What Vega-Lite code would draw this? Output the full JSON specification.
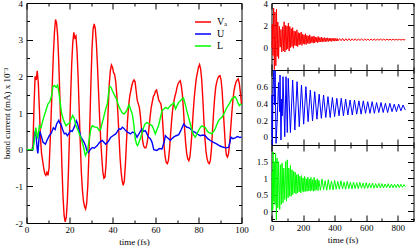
{
"$schema":"https://vega.github.io/schema/vega-lite/v6.json",
"padding":{"left":1.5,"top":-2,"right":0,"bottom":0},
"config":{"font":"Liberation Serif","view":{"stroke":"black","strokeWidth":1},
"axis":{"domain":false,"grid":false,"labelFont":"Liberation Serif","labelFontSize":9,"titleFont":"Liberation Serif","titleFontSize":9,"titleFontWeight":"normal","tickColor":"black","labelColor":"black","titleColor":"black","labelFlush":false,"labelOverlap":false,"labelPadding":10},
"axisBottom":{"labelPadding":8,"titlePadding":0}},
"datasets":{
"left":[
{"s":"Vₐ","t":0,"v":0},{"s":"Vₐ","t":2.5,"v":0},{"s":"Vₐ","t":3,"v":0.1},{"s":"Vₐ","t":3.5,"v":1.2},{"s":"Vₐ","t":4,"v":2.0},{"s":"Vₐ","t":4.5,"v":1.9},{"s":"Vₐ","t":5,"v":2.15},{"s":"Vₐ","t":5.5,"v":1.8},{"s":"Vₐ","t":6,"v":1.1},{"s":"Vₐ","t":6.5,"v":0.3},{"s":"Vₐ","t":7,"v":-0.1},{"s":"Vₐ","t":7.5,"v":-0.3},{"s":"Vₐ","t":8,"v":-0.5},{"s":"Vₐ","t":8.5,"v":-0.65},{"s":"Vₐ","t":9,"v":-0.7},{"s":"Vₐ","t":9.5,"v":-0.62},{"s":"Vₐ","t":10,"v":-0.7},{"s":"Vₐ","t":10.5,"v":-0.5},{"s":"Vₐ","t":11,"v":0.2},{"s":"Vₐ","t":11.5,"v":1.0},{"s":"Vₐ","t":12,"v":1.8},{"s":"Vₐ","t":12.5,"v":2.6},{"s":"Vₐ","t":13,"v":3.2},{"s":"Vₐ","t":13.5,"v":3.55},{"s":"Vₐ","t":14,"v":3.45},{"s":"Vₐ","t":14.5,"v":3.1},{"s":"Vₐ","t":15,"v":2.4},{"s":"Vₐ","t":15.5,"v":1.5},{"s":"Vₐ","t":16,"v":0.5},{"s":"Vₐ","t":16.5,"v":-0.5},{"s":"Vₐ","t":17,"v":-1.3},{"s":"Vₐ","t":17.5,"v":-1.8},{"s":"Vₐ","t":18,"v":-1.97},{"s":"Vₐ","t":18.5,"v":-1.85},{"s":"Vₐ","t":19,"v":-1.4},{"s":"Vₐ","t":19.5,"v":-0.6},{"s":"Vₐ","t":20,"v":0.4},{"s":"Vₐ","t":20.5,"v":1.4},{"s":"Vₐ","t":21,"v":2.3},{"s":"Vₐ","t":21.5,"v":2.9},{"s":"Vₐ","t":22,"v":3.2},{"s":"Vₐ","t":22.5,"v":3.05},{"s":"Vₐ","t":23,"v":3.1},{"s":"Vₐ","t":23.5,"v":2.7},{"s":"Vₐ","t":24,"v":2.0},{"s":"Vₐ","t":24.5,"v":1.1},{"s":"Vₐ","t":25,"v":0.2},{"s":"Vₐ","t":25.5,"v":-0.6},{"s":"Vₐ","t":26,"v":-1.1},{"s":"Vₐ","t":26.5,"v":-1.4},{"s":"Vₐ","t":27,"v":-1.55},{"s":"Vₐ","t":27.5,"v":-1.62},{"s":"Vₐ","t":28,"v":-1.45},{"s":"Vₐ","t":28.5,"v":-1.0},{"s":"Vₐ","t":29,"v":-0.2},{"s":"Vₐ","t":29.5,"v":0.8},{"s":"Vₐ","t":30,"v":1.9},{"s":"Vₐ","t":30.5,"v":2.8},{"s":"Vₐ","t":31,"v":3.3},{"s":"Vₐ","t":31.5,"v":3.43},{"s":"Vₐ","t":32,"v":3.3},{"s":"Vₐ","t":32.5,"v":2.9},{"s":"Vₐ","t":33,"v":2.3},{"s":"Vₐ","t":33.5,"v":1.6},{"s":"Vₐ","t":34,"v":0.9},{"s":"Vₐ","t":34.5,"v":0.3},{"s":"Vₐ","t":35,"v":-0.2},{"s":"Vₐ","t":35.5,"v":-0.6},{"s":"Vₐ","t":36,"v":-0.78},{"s":"Vₐ","t":36.5,"v":-0.75},{"s":"Vₐ","t":37,"v":-0.4},{"s":"Vₐ","t":37.5,"v":0.3},{"s":"Vₐ","t":38,"v":1.1},{"s":"Vₐ","t":38.5,"v":1.8},{"s":"Vₐ","t":39,"v":2.15},{"s":"Vₐ","t":39.5,"v":2.31},{"s":"Vₐ","t":40,"v":2.25},{"s":"Vₐ","t":40.5,"v":2.1},{"s":"Vₐ","t":41,"v":2.05},{"s":"Vₐ","t":41.5,"v":1.85},{"s":"Vₐ","t":42,"v":1.5},{"s":"Vₐ","t":42.5,"v":1.0},{"s":"Vₐ","t":43,"v":0.4},{"s":"Vₐ","t":43.5,"v":-0.2},{"s":"Vₐ","t":44,"v":-0.6},{"s":"Vₐ","t":44.5,"v":-0.85},{"s":"Vₐ","t":45,"v":-0.97},{"s":"Vₐ","t":45.5,"v":-0.85},{"s":"Vₐ","t":46,"v":-0.4},{"s":"Vₐ","t":46.5,"v":0.2},{"s":"Vₐ","t":47,"v":0.8},{"s":"Vₐ","t":47.5,"v":1.2},{"s":"Vₐ","t":48,"v":1.45},{"s":"Vₐ","t":48.5,"v":1.6},{"s":"Vₐ","t":49,"v":1.75},{"s":"Vₐ","t":49.5,"v":1.85},{"s":"Vₐ","t":50,"v":1.9},{"s":"Vₐ","t":50.5,"v":1.85},{"s":"Vₐ","t":51,"v":1.6},{"s":"Vₐ","t":51.5,"v":1.35},{"s":"Vₐ","t":52,"v":1.25},{"s":"Vₐ","t":52.5,"v":1.15},{"s":"Vₐ","t":53,"v":0.9},{"s":"Vₐ","t":53.5,"v":0.55},{"s":"Vₐ","t":54,"v":0.25},{"s":"Vₐ","t":54.5,"v":0.1},{"s":"Vₐ","t":55,"v":0.05},{"s":"Vₐ","t":55.5,"v":0.05},{"s":"Vₐ","t":56,"v":0.15},{"s":"Vₐ","t":56.5,"v":0.35},{"s":"Vₐ","t":57,"v":0.6},{"s":"Vₐ","t":57.5,"v":0.9},{"s":"Vₐ","t":58,"v":1.15},{"s":"Vₐ","t":58.5,"v":1.3},{"s":"Vₐ","t":59,"v":1.45},{"s":"Vₐ","t":59.5,"v":1.5},{"s":"Vₐ","t":60,"v":1.6},{"s":"Vₐ","t":60.5,"v":1.63},{"s":"Vₐ","t":61,"v":1.5},{"s":"Vₐ","t":61.5,"v":1.35},{"s":"Vₐ","t":62,"v":1.3},{"s":"Vₐ","t":62.5,"v":1.25},{"s":"Vₐ","t":63,"v":1.05},{"s":"Vₐ","t":63.5,"v":0.6},{"s":"Vₐ","t":64,"v":0.1},{"s":"Vₐ","t":64.5,"v":-0.2},{"s":"Vₐ","t":65,"v":-0.35},{"s":"Vₐ","t":65.5,"v":-0.38},{"s":"Vₐ","t":66,"v":-0.3},{"s":"Vₐ","t":66.5,"v":0.0},{"s":"Vₐ","t":67,"v":0.4},{"s":"Vₐ","t":67.5,"v":0.8},{"s":"Vₐ","t":68,"v":1.1},{"s":"Vₐ","t":68.5,"v":1.3},{"s":"Vₐ","t":69,"v":1.45},{"s":"Vₐ","t":69.5,"v":1.55},{"s":"Vₐ","t":70,"v":1.7},{"s":"Vₐ","t":70.5,"v":1.8},{"s":"Vₐ","t":71,"v":1.85},{"s":"Vₐ","t":71.5,"v":1.88},{"s":"Vₐ","t":72,"v":1.75},{"s":"Vₐ","t":72.5,"v":1.5},{"s":"Vₐ","t":73,"v":1.1},{"s":"Vₐ","t":73.5,"v":0.6},{"s":"Vₐ","t":74,"v":0.2},{"s":"Vₐ","t":74.5,"v":-0.1},{"s":"Vₐ","t":75,"v":-0.25},{"s":"Vₐ","t":75.5,"v":-0.3},{"s":"Vₐ","t":76,"v":-0.2},{"s":"Vₐ","t":76.5,"v":0.1},{"s":"Vₐ","t":77,"v":0.5},{"s":"Vₐ","t":77.5,"v":1.0},{"s":"Vₐ","t":78,"v":1.4},{"s":"Vₐ","t":78.5,"v":1.7},{"s":"Vₐ","t":79,"v":1.95},{"s":"Vₐ","t":79.5,"v":2.1},{"s":"Vₐ","t":80,"v":2.25},{"s":"Vₐ","t":80.5,"v":2.32},{"s":"Vₐ","t":81,"v":2.2},{"s":"Vₐ","t":81.5,"v":1.9},{"s":"Vₐ","t":82,"v":1.4},{"s":"Vₐ","t":82.5,"v":0.8},{"s":"Vₐ","t":83,"v":0.3},{"s":"Vₐ","t":83.5,"v":-0.05},{"s":"Vₐ","t":84,"v":-0.25},{"s":"Vₐ","t":84.5,"v":-0.35},{"s":"Vₐ","t":85,"v":-0.38},{"s":"Vₐ","t":85.5,"v":-0.3},{"s":"Vₐ","t":86,"v":0.0},{"s":"Vₐ","t":86.5,"v":0.5},{"s":"Vₐ","t":87,"v":1.0},{"s":"Vₐ","t":87.5,"v":1.4},{"s":"Vₐ","t":88,"v":1.7},{"s":"Vₐ","t":88.5,"v":1.85},{"s":"Vₐ","t":89,"v":1.95},{"s":"Vₐ","t":89.5,"v":2.0},{"s":"Vₐ","t":90,"v":2.02},{"s":"Vₐ","t":90.5,"v":1.9},{"s":"Vₐ","t":91,"v":1.6},{"s":"Vₐ","t":91.5,"v":1.1},{"s":"Vₐ","t":92,"v":0.6},{"s":"Vₐ","t":92.5,"v":0.1},{"s":"Vₐ","t":93,"v":-0.15},{"s":"Vₐ","t":93.5,"v":-0.2},{"s":"Vₐ","t":94,"v":-0.1},{"s":"Vₐ","t":94.5,"v":0.2},{"s":"Vₐ","t":95,"v":0.6},{"s":"Vₐ","t":95.5,"v":1.0},{"s":"Vₐ","t":96,"v":1.35},{"s":"Vₐ","t":96.5,"v":1.6},{"s":"Vₐ","t":97,"v":1.75},{"s":"Vₐ","t":97.5,"v":1.85},{"s":"Vₐ","t":98,"v":1.9},{"s":"Vₐ","t":98.5,"v":1.93},{"s":"Vₐ","t":99,"v":1.8},{"s":"Vₐ","t":99.5,"v":1.55},{"s":"Vₐ","t":100,"v":1.25},
{"s":"U","t":0,"v":0},{"s":"U","t":3,"v":0},{"s":"U","t":3.5,"v":0.3},{"s":"U","t":4,"v":0.5},{"s":"U","t":4.5,"v":0.35},{"s":"U","t":5,"v":0.0},{"s":"U","t":5.3,"v":-0.1},{"s":"U","t":5.8,"v":0.3},{"s":"U","t":6.2,"v":0.5},{"s":"U","t":7,"v":0.35},{"s":"U","t":7.7,"v":0.2},{"s":"U","t":8.8,"v":0.15},{"s":"U","t":9.5,"v":0.25},{"s":"U","t":10.6,"v":0.38},{"s":"U","t":11.5,"v":0.45},{"s":"U","t":12.5,"v":0.6},{"s":"U","t":13.3,"v":0.55},{"s":"U","t":14,"v":0.7},{"s":"U","t":15,"v":0.8},{"s":"U","t":15.5,"v":0.72},{"s":"U","t":16,"v":0.7},{"s":"U","t":16.8,"v":0.55},{"s":"U","t":17.6,"v":0.43},{"s":"U","t":18.3,"v":0.45},{"s":"U","t":19,"v":0.38},{"s":"U","t":19.8,"v":0.45},{"s":"U","t":20.6,"v":0.52},{"s":"U","t":21.3,"v":0.5},{"s":"U","t":22.1,"v":0.6},{"s":"U","t":22.7,"v":0.7},{"s":"U","t":23.2,"v":0.79},{"s":"U","t":23.7,"v":0.72},{"s":"U","t":24.2,"v":0.6},{"s":"U","t":25.3,"v":0.34},{"s":"U","t":26,"v":0.28},{"s":"U","t":26.8,"v":0.2},{"s":"U","t":27.5,"v":0.1},{"s":"U","t":28.1,"v":-0.03},{"s":"U","t":28.8,"v":-0.08},{"s":"U","t":29.6,"v":0.0},{"s":"U","t":30.6,"v":0.06},{"s":"U","t":31.5,"v":0.04},{"s":"U","t":32.9,"v":0.11},{"s":"U","t":34,"v":0.2},{"s":"U","t":35.2,"v":0.25},{"s":"U","t":36,"v":0.2},{"s":"U","t":36.8,"v":0.15},{"s":"U","t":38,"v":0.22},{"s":"U","t":39.1,"v":0.33},{"s":"U","t":40.2,"v":0.38},{"s":"U","t":41.5,"v":0.43},{"s":"U","t":42.3,"v":0.5},{"s":"U","t":43,"v":0.57},{"s":"U","t":43.8,"v":0.55},{"s":"U","t":44.6,"v":0.61},{"s":"U","t":45.3,"v":0.58},{"s":"U","t":46.1,"v":0.52},{"s":"U","t":47.2,"v":0.47},{"s":"U","t":48.4,"v":0.43},{"s":"U","t":49.3,"v":0.48},{"s":"U","t":50.5,"v":0.45},{"s":"U","t":51.4,"v":0.34},{"s":"U","t":52.5,"v":0.45},{"s":"U","t":53.7,"v":0.57},{"s":"U","t":54.5,"v":0.5},{"s":"U","t":55.3,"v":0.52},{"s":"U","t":56.8,"v":0.34},{"s":"U","t":57.6,"v":0.3},{"s":"U","t":58.4,"v":0.2},{"s":"U","t":59.2,"v":0.0},{"s":"U","t":60.7,"v":-0.02},{"s":"U","t":61.8,"v":0.03},{"s":"U","t":63,"v":0.02},{"s":"U","t":64,"v":0.2},{"s":"U","t":64.6,"v":0.38},{"s":"U","t":65.3,"v":0.34},{"s":"U","t":66.1,"v":0.3},{"s":"U","t":66.9,"v":0.25},{"s":"U","t":67.6,"v":0.3},{"s":"U","t":68.4,"v":0.34},{"s":"U","t":69.6,"v":0.38},{"s":"U","t":70.8,"v":0.41},{"s":"U","t":72,"v":0.55},{"s":"U","t":73.1,"v":0.7},{"s":"U","t":73.8,"v":0.65},{"s":"U","t":74.6,"v":0.61},{"s":"U","t":75.4,"v":0.6},{"s":"U","t":76.2,"v":0.57},{"s":"U","t":77.4,"v":0.5},{"s":"U","t":78.5,"v":0.47},{"s":"U","t":79.6,"v":0.42},{"s":"U","t":80.8,"v":0.38},{"s":"U","t":82,"v":0.4},{"s":"U","t":83.1,"v":0.38},{"s":"U","t":84.3,"v":0.3},{"s":"U","t":85.5,"v":0.25},{"s":"U","t":87,"v":0.2},{"s":"U","t":88.6,"v":0.15},{"s":"U","t":90,"v":0.1},{"s":"U","t":90.9,"v":0.08},{"s":"U","t":92.5,"v":0.05},{"s":"U","t":94,"v":0.06},{"s":"U","t":94.6,"v":0.2},{"s":"U","t":95.1,"v":0.34},{"s":"U","t":96,"v":0.3},{"s":"U","t":97.1,"v":0.32},{"s":"U","t":98,"v":0.36},{"s":"U","t":98.6,"v":0.35},{"s":"U","t":99.3,"v":0.33},{"s":"U","t":100,"v":0.35},
{"s":"L","t":0,"v":0},{"s":"L","t":3,"v":0},{"s":"L","t":3.5,"v":0.2},{"s":"L","t":4.3,"v":0.6},{"s":"L","t":5.2,"v":0.3},{"s":"L","t":6,"v":0.65},{"s":"L","t":6.8,"v":0.6},{"s":"L","t":7.6,"v":0.8},{"s":"L","t":8.5,"v":0.97},{"s":"L","t":9.2,"v":1.1},{"s":"L","t":10,"v":1.25},{"s":"L","t":10.8,"v":1.3},{"s":"L","t":11.6,"v":1.45},{"s":"L","t":12.3,"v":1.72},{"s":"L","t":13,"v":1.75},{"s":"L","t":13.8,"v":1.7},{"s":"L","t":14.5,"v":1.76},{"s":"L","t":15,"v":1.6},{"s":"L","t":15.5,"v":1.35},{"s":"L","t":16.3,"v":1.0},{"s":"L","t":17,"v":0.85},{"s":"L","t":17.6,"v":0.75},{"s":"L","t":18.4,"v":0.65},{"s":"L","t":19.2,"v":0.7},{"s":"L","t":20,"v":0.72},{"s":"L","t":20.8,"v":0.85},{"s":"L","t":21.5,"v":0.93},{"s":"L","t":22.2,"v":0.85},{"s":"L","t":23,"v":0.65},{"s":"L","t":23.8,"v":0.55},{"s":"L","t":24.6,"v":0.43},{"s":"L","t":25.4,"v":0.3},{"s":"L","t":26.2,"v":0.15},{"s":"L","t":26.8,"v":0.0},{"s":"L","t":27.4,"v":-0.16},{"s":"L","t":28,"v":-0.08},{"s":"L","t":28.4,"v":-0.03},{"s":"L","t":29.1,"v":0.25},{"s":"L","t":29.9,"v":0.56},{"s":"L","t":30.6,"v":0.65},{"s":"L","t":31.5,"v":0.62},{"s":"L","t":33,"v":0.6},{"s":"L","t":33.8,"v":0.52},{"s":"L","t":34.5,"v":0.56},{"s":"L","t":35.3,"v":0.75},{"s":"L","t":36.1,"v":0.93},{"s":"L","t":36.8,"v":1.1},{"s":"L","t":37.6,"v":1.25},{"s":"L","t":38.3,"v":1.6},{"s":"L","t":38.7,"v":1.73},{"s":"L","t":39.3,"v":1.7},{"s":"L","t":40,"v":1.6},{"s":"L","t":40.8,"v":1.5},{"s":"L","t":41.9,"v":1.38},{"s":"L","t":42.8,"v":1.2},{"s":"L","t":43.6,"v":1.1},{"s":"L","t":44.6,"v":1.0},{"s":"L","t":45.3,"v":0.97},{"s":"L","t":46.1,"v":1.02},{"s":"L","t":46.8,"v":1.1},{"s":"L","t":47.7,"v":1.22},{"s":"L","t":48.4,"v":1.1},{"s":"L","t":49.2,"v":0.97},{"s":"L","t":49.9,"v":0.7},{"s":"L","t":50.6,"v":0.29},{"s":"L","t":51.2,"v":0.15},{"s":"L","t":51.7,"v":0.11},{"s":"L","t":52.3,"v":0.2},{"s":"L","t":52.9,"v":0.29},{"s":"L","t":53.7,"v":0.45},{"s":"L","t":54.5,"v":0.61},{"s":"L","t":55.2,"v":0.7},{"s":"L","t":56,"v":0.74},{"s":"L","t":57.2,"v":0.7},{"s":"L","t":58.4,"v":0.65},{"s":"L","t":59.2,"v":0.55},{"s":"L","t":59.9,"v":0.43},{"s":"L","t":60.7,"v":0.55},{"s":"L","t":61.4,"v":0.65},{"s":"L","t":62.2,"v":0.85},{"s":"L","t":63,"v":1.06},{"s":"L","t":63.8,"v":1.1},{"s":"L","t":64.6,"v":1.15},{"s":"L","t":65.8,"v":1.12},{"s":"L","t":66.9,"v":1.2},{"s":"L","t":68,"v":1.25},{"s":"L","t":68.5,"v":1.28},{"s":"L","t":69.3,"v":1.11},{"s":"L","t":70,"v":1.2},{"s":"L","t":70.8,"v":1.29},{"s":"L","t":71.5,"v":1.33},{"s":"L","t":72.3,"v":1.38},{"s":"L","t":73,"v":1.41},{"s":"L","t":73.8,"v":1.25},{"s":"L","t":74.6,"v":1.05},{"s":"L","t":75.4,"v":0.88},{"s":"L","t":76.2,"v":0.7},{"s":"L","t":77,"v":0.52},{"s":"L","t":77.7,"v":0.4},{"s":"L","t":78.5,"v":0.34},{"s":"L","t":79.2,"v":0.42},{"s":"L","t":80,"v":0.52},{"s":"L","t":80.8,"v":0.6},{"s":"L","t":81.6,"v":0.65},{"s":"L","t":82.4,"v":0.62},{"s":"L","t":83.1,"v":0.61},{"s":"L","t":83.9,"v":0.52},{"s":"L","t":84.7,"v":0.47},{"s":"L","t":85.5,"v":0.45},{"s":"L","t":86.2,"v":0.43},{"s":"L","t":87,"v":0.5},{"s":"L","t":87.7,"v":0.56},{"s":"L","t":88.5,"v":0.68},{"s":"L","t":89.3,"v":0.79},{"s":"L","t":90.1,"v":0.85},{"s":"L","t":90.9,"v":0.88},{"s":"L","t":92,"v":1.0},{"s":"L","t":93.2,"v":1.15},{"s":"L","t":94.3,"v":1.25},{"s":"L","t":95.5,"v":1.38},{"s":"L","t":96.3,"v":1.42},{"s":"L","t":96.9,"v":1.45},{"s":"L","t":97.5,"v":1.4},{"s":"L","t":98.2,"v":1.3},{"s":"L","t":99,"v":1.2},{"s":"L","t":99.5,"v":1.24},{"s":"L","t":100,"v":1.22}
],
"rr":[
{"t":0,"v":0},{"t":3,"v":0},{"t":5,"v":2.1},{"t":9.5,"v":-0.7},{"t":13.5,"v":3.55},{"t":18,"v":-1.97},{"t":22,"v":3.2},{"t":27.5,"v":-1.62},{"t":31.5,"v":3.43},{"t":36,"v":-0.78},{"t":40,"v":2.3},{"t":45,"v":-0.97},{"t":50,"v":1.9},{"t":55,"v":0.05},{"t":60,"v":1.63},{"t":65,"v":-0.38},{"t":71,"v":1.88},{"t":75,"v":-0.3},{"t":80,"v":2.32},{"t":85,"v":-0.38},{"t":90,"v":2.0},{"t":94,"v":-0.2},{"t":98.5,"v":1.93},{"t":103,"v":-0.1},{"t":107,"v":2.2},{"t":112,"v":-0.3},{"t":116,"v":1.9},{"t":121,"v":0.0},{"t":125,"v":1.7},{"t":130,"v":0.1},{"t":134,"v":1.8},{"t":139,"v":-0.05},{"t":143,"v":1.5},{"t":148,"v":0.2},{"t":152,"v":1.45},{"t":157,"v":0.15},{"t":161,"v":1.6},{"t":166,"v":0.1},{"t":170,"v":1.35},{"t":175,"v":0.25},{"t":179,"v":1.3},{"t":184,"v":0.3},{"t":188,"v":1.4},{"t":193,"v":0.2},{"t":197,"v":1.2},{"t":202,"v":0.35},{"t":206,"v":1.15},{"t":211,"v":0.3},{"t":215,"v":1.25},{"t":220,"v":0.3},{"t":224,"v":1.1},{"t":229,"v":0.4},{"t":233,"v":1.05},{"t":238,"v":0.35},{"t":242,"v":1.15},{"t":247,"v":0.4},{"t":251,"v":1.0},{"t":256,"v":0.45},{"t":260,"v":0.98},{"t":265,"v":0.4},{"t":269,"v":1.05},{"t":274,"v":0.45},{"t":278,"v":0.95},{"t":283,"v":0.5},{"t":287,"v":0.92},{"t":292,"v":0.45},{"t":296,"v":1.0},{"t":301,"v":0.5},{"t":306,"v":0.9},{"t":311,"v":0.52},{"t":316,"v":0.95},{"t":321,"v":0.5},{"t":326,"v":0.88},{"t":331,"v":0.55},{"t":336,"v":0.9},{"t":341,"v":0.52},{"t":346,"v":0.86},{"t":351,"v":0.56},{"t":356,"v":0.88},{"t":361,"v":0.55},{"t":366,"v":0.84},{"t":371,"v":0.58},{"t":376,"v":0.86},{"t":381,"v":0.56},{"t":386,"v":0.83},{"t":391,"v":0.6},{"t":396,"v":0.85},{"t":401,"v":0.58},{"t":406,"v":0.82},{"t":411,"v":0.6},{"t":416,"v":0.83},{"t":421,"v":0.6},{"t":431,"v":0.81},{"t":441,"v":0.62},{"t":451,"v":0.82},{"t":461,"v":0.6},{"t":471,"v":0.8},{"t":481,"v":0.63},{"t":491,"v":0.81},{"t":501,"v":0.62},{"t":511,"v":0.79},{"t":521,"v":0.64},{"t":531,"v":0.8},{"t":541,"v":0.63},{"t":551,"v":0.78},{"t":561,"v":0.65},{"t":571,"v":0.79},{"t":581,"v":0.64},{"t":591,"v":0.78},{"t":601,"v":0.66},{"t":611,"v":0.77},{"t":621,"v":0.65},{"t":631,"v":0.78},{"t":641,"v":0.66},{"t":651,"v":0.77},{"t":661,"v":0.66},{"t":671,"v":0.76},{"t":681,"v":0.67},{"t":691,"v":0.77},{"t":701,"v":0.66},{"t":711,"v":0.76},{"t":721,"v":0.67},{"t":731,"v":0.76},{"t":741,"v":0.68},{"t":751,"v":0.75},{"t":761,"v":0.67},{"t":771,"v":0.76},{"t":781,"v":0.68},{"t":791,"v":0.75},{"t":801,"v":0.68},{"t":811,"v":0.75},{"t":821,"v":0.68},{"t":831,"v":0.74},{"t":841,"v":0.69},{"t":848,"v":0.73}
],
"rb":[
{"t":0,"v":0},{"t":3,"v":0},{"t":4,"v":0.5},{"t":5.3,"v":-0.1},{"t":10,"v":0.6},{"t":15,"v":0.8},{"t":19,"v":0.38},{"t":23,"v":0.79},{"t":28.8,"v":-0.08},{"t":36,"v":0.2},{"t":44.6,"v":0.65},{"t":51.4,"v":0.3},{"t":54,"v":0.74},{"t":60,"v":-0.04},{"t":64.6,"v":0.45},{"t":68,"v":0.25},{"t":73,"v":0.72},{"t":84,"v":0.0},{"t":92,"v":0.72},{"t":100,"v":0.05},{"t":106,"v":0.7},{"t":120,"v":0.05},{"t":134,"v":0.68},{"t":148,"v":0.08},{"t":162,"v":0.66},{"t":176,"v":0.12},{"t":190,"v":0.62},{"t":204,"v":0.15},{"t":218,"v":0.6},{"t":232,"v":0.18},{"t":246,"v":0.56},{"t":260,"v":0.19},{"t":274,"v":0.54},{"t":288,"v":0.21},{"t":302,"v":0.51},{"t":316,"v":0.22},{"t":330,"v":0.5},{"t":344,"v":0.23},{"t":358,"v":0.48},{"t":372,"v":0.23},{"t":386,"v":0.47},{"t":400,"v":0.24},{"t":414,"v":0.46},{"t":428,"v":0.25},{"t":442,"v":0.46},{"t":456,"v":0.25},{"t":470,"v":0.45},{"t":484,"v":0.26},{"t":498,"v":0.44},{"t":512,"v":0.26},{"t":526,"v":0.44},{"t":540,"v":0.27},{"t":554,"v":0.43},{"t":568,"v":0.27},{"t":582,"v":0.43},{"t":596,"v":0.28},{"t":610,"v":0.42},{"t":624,"v":0.28},{"t":638,"v":0.42},{"t":652,"v":0.28},{"t":666,"v":0.41},{"t":680,"v":0.29},{"t":694,"v":0.41},{"t":708,"v":0.29},{"t":722,"v":0.4},{"t":736,"v":0.29},{"t":750,"v":0.4},{"t":764,"v":0.3},{"t":778,"v":0.39},{"t":792,"v":0.3},{"t":806,"v":0.39},{"t":820,"v":0.31},{"t":834,"v":0.38},{"t":848,"v":0.32}
],
"rg":[
{"t":0,"v":0},{"t":3,"v":0},{"t":5,"v":1.2},{"t":8,"v":0.05},{"t":10,"v":1.79},{"t":14,"v":0.3},{"t":18,"v":1.5},{"t":22,"v":0.2},{"t":26,"v":1.74},{"t":31,"v":-0.27},{"t":35,"v":1.6},{"t":40,"v":0.1},{"t":45,"v":1.5},{"t":52,"v":0.05},{"t":57,"v":1.4},{"t":62,"v":0.2},{"t":67,"v":1.45},{"t":73,"v":0.25},{"t":78,"v":1.3},{"t":84,"v":0.35},{"t":90,"v":1.5},{"t":95,"v":0.3},{"t":100,"v":1.55},{"t":105,"v":0.4},{"t":110,"v":1.3},{"t":115,"v":0.45},{"t":120,"v":1.38},{"t":125,"v":0.45},{"t":130,"v":1.25},{"t":135,"v":0.5},{"t":140,"v":1.2},{"t":145,"v":0.55},{"t":150,"v":1.18},{"t":155,"v":0.52},{"t":160,"v":1.1},{"t":165,"v":0.55},{"t":170,"v":1.12},{"t":175,"v":0.58},{"t":180,"v":1.05},{"t":185,"v":0.55},{"t":190,"v":1.07},{"t":195,"v":0.6},{"t":200,"v":1.0},{"t":205,"v":0.58},{"t":210,"v":1.05},{"t":215,"v":0.6},{"t":220,"v":0.98},{"t":225,"v":0.6},{"t":230,"v":1.03},{"t":235,"v":0.62},{"t":240,"v":0.97},{"t":245,"v":0.6},{"t":250,"v":1.02},{"t":255,"v":0.63},{"t":260,"v":0.95},{"t":265,"v":0.6},{"t":270,"v":1.02},{"t":275,"v":0.62},{"t":280,"v":0.94},{"t":285,"v":0.64},{"t":290,"v":0.98},{"t":295,"v":0.62},{"t":300,"v":0.93},{"t":310,"v":0.63},{"t":320,"v":0.97},{"t":330,"v":0.64},{"t":340,"v":0.92},{"t":350,"v":0.63},{"t":360,"v":0.95},{"t":370,"v":0.65},{"t":380,"v":0.91},{"t":390,"v":0.64},{"t":400,"v":0.93},{"t":410,"v":0.66},{"t":420,"v":0.9},{"t":430,"v":0.66},{"t":440,"v":0.92},{"t":450,"v":0.67},{"t":460,"v":0.88},{"t":470,"v":0.66},{"t":480,"v":0.9},{"t":490,"v":0.68},{"t":500,"v":0.87},{"t":510,"v":0.67},{"t":520,"v":0.88},{"t":530,"v":0.68},{"t":540,"v":0.86},{"t":550,"v":0.68},{"t":560,"v":0.87},{"t":570,"v":0.69},{"t":580,"v":0.85},{"t":590,"v":0.68},{"t":600,"v":0.86},{"t":610,"v":0.69},{"t":620,"v":0.84},{"t":630,"v":0.7},{"t":640,"v":0.85},{"t":650,"v":0.69},{"t":660,"v":0.83},{"t":670,"v":0.7},{"t":680,"v":0.84},{"t":690,"v":0.7},{"t":700,"v":0.83},{"t":710,"v":0.7},{"t":720,"v":0.82},{"t":730,"v":0.71},{"t":740,"v":0.83},{"t":750,"v":0.7},{"t":760,"v":0.82},{"t":770,"v":0.71},{"t":780,"v":0.81},{"t":790,"v":0.71},{"t":800,"v":0.82},{"t":810,"v":0.71},{"t":820,"v":0.81},{"t":830,"v":0.72},{"t":840,"v":0.8},{"t":848,"v":0.74}
]},
"resolve":{"legend":{"color":"independent"}},
"bounds":"flush",
"spacing":30,
"hconcat":[
{"width":215,"height":220,"data":{"name":"left"},
"layer":[
{"mark":{"type":"line","strokeWidth":1.4},
"encoding":{
"x":{"field":"t","type":"quantitative","scale":{"domain":[0,100],"nice":false,"zero":false},
"axis":{"orient":"bottom","values":[0,10,20,30,40,50,60,70,80,90,100],"labelExpr":"datum.value % 20 === 0 ? '' + datum.value : ''","tickSize":{"condition":{"test":"datum.value % 20 === 0","value":-6},"value":-3},"title":"time (fs)"}},
"y":{"field":"v","type":"quantitative","scale":{"domain":[-2,4],"nice":false,"zero":false},
"axis":{"orient":"left","values":[-2,-1.5,-1,-0.5,0,0.5,1,1.5,2,2.5,3,3.5,4],"labelExpr":"datum.value % 1 === 0 ? '' + datum.value : ''","tickSize":{"condition":{"test":"datum.value % 1 === 0","value":-6},"value":-3},"title":"bond current (mA) x 10⁻³","titlePadding":4}},
"color":{"field":"s","type":"nominal","sort":null,"scale":{"domain":["Vₐ","U","L"],"range":["#ff0000","#0000ff","#00ff00"]},
"legend":{"orient":"none","legendX":170.5,"legendY":13,"title":null,"symbolType":"M-1.6,0H1.6","symbolSize":100,"symbolStrokeWidth":1.5,"symbolFillColor":"transparent","labelFont":"Liberation Serif","labelFontSize":10,"labelColor":"black","rowPadding":1,"labelOffset":8,"padding":0}}}},
{"mark":{"type":"point","opacity":0,"size":0},
"encoding":{
"x":{"field":"t","type":"quantitative","axis":{"orient":"top","values":[0,10,20,30,40,50,60,70,80,90,100],"labels":false,"title":null,"tickSize":{"condition":{"test":"datum.value % 20 === 0","value":-6},"value":-3}}},
"y":{"field":"v","type":"quantitative","axis":{"orient":"right","values":[-2,-1.5,-1,-0.5,0,0.5,1,1.5,2,2.5,3,3.5,4],"labels":false,"title":null,"tickSize":{"condition":{"test":"datum.value % 1 === 0","value":-6},"value":-3}}}}}
],
"resolve":{"axis":{"x":"independent","y":"independent"}}},
{"vconcat":[
{"width":142,"height":67,"data":{"name":"rr"},
"layer":[
{"mark":{"type":"line","strokeWidth":1,"color":"#ff0000"},
"encoding":{
"x":{"field":"t","type":"quantitative","scale":{"domain":[0,900],"nice":false,"zero":false},"axis":{"orient":"bottom","values":[0,100,200,300,400,500,600,700,800,900],"labels":false,"title":null,"tickSize":{"condition":{"test":"datum.value % 200 === 0","value":-6},"value":-3}}},
"y":{"field":"v","type":"quantitative","scale":{"domain":[-2,4],"nice":false,"zero":false},"axis":{"orient":"left","values":[-2,-1,0,1,2,3,4],"labelExpr":"datum.value % 2 === 0 && datum.value > -2 ? '' + datum.value : ''","title":null,"tickSize":{"condition":{"test":"datum.value % 2 === 0","value":-6},"value":-3}}}}},
{"mark":{"type":"point","opacity":0,"size":0},
"encoding":{
"x":{"field":"t","type":"quantitative","axis":{"orient":"top","values":[0,100,200,300,400,500,600,700,800,900],"labels":false,"title":null,"tickSize":{"condition":{"test":"datum.value % 200 === 0","value":-6},"value":-3}}},
"y":{"field":"v","type":"quantitative","axis":{"orient":"right","values":[-2,-1,0,1,2,3,4],"labels":false,"title":null,"tickSize":{"condition":{"test":"datum.value % 2 === 0","value":-6},"value":-3}}}}}
],
"resolve":{"axis":{"x":"independent","y":"independent"}}},
{"width":142,"height":75,"data":{"name":"rb"},
"layer":[
{"mark":{"type":"line","strokeWidth":1,"color":"#0000ff"},
"encoding":{
"x":{"field":"t","type":"quantitative","scale":{"domain":[0,900],"nice":false,"zero":false},"axis":{"orient":"bottom","values":[0,100,200,300,400,500,600,700,800,900],"labels":false,"title":null,"tickSize":{"condition":{"test":"datum.value % 200 === 0","value":-6},"value":-3}}},
"y":{"field":"v","type":"quantitative","scale":{"domain":[-0.1,0.8],"nice":false,"zero":false},"axis":{"orient":"left","values":[-0.1,0,0.1,0.2,0.3,0.4,0.5,0.6,0.7,0.8],"labelExpr":"round(datum.value*10) % 2 === 0 && datum.value > -0.05 && datum.value < 0.75 ? '' + datum.value : ''","title":null,"tickSize":{"condition":{"test":"round(datum.value*10) % 2 === 0","value":-6},"value":-3}}}}},
{"mark":{"type":"point","opacity":0,"size":0},
"encoding":{
"x":{"field":"t","type":"quantitative","axis":{"orient":"top","values":[0,100,200,300,400,500,600,700,800,900],"labels":false,"title":null,"tickSize":{"condition":{"test":"datum.value % 200 === 0","value":-6},"value":-3}}},
"y":{"field":"v","type":"quantitative","axis":{"orient":"right","values":[-0.1,0,0.1,0.2,0.3,0.4,0.5,0.6,0.7,0.8],"labels":false,"title":null,"tickSize":{"condition":{"test":"round(datum.value*10) % 2 === 0","value":-6},"value":-3}}}}}
],
"resolve":{"axis":{"x":"independent","y":"independent"}}},
{"width":142,"height":76,"data":{"name":"rg"},
"layer":[
{"mark":{"type":"line","strokeWidth":1,"color":"#00ff00"},
"encoding":{
"x":{"field":"t","type":"quantitative","scale":{"domain":[0,900],"nice":false,"zero":false},"axis":{"orient":"bottom","values":[0,100,200,300,400,500,600,700,800,900],"labelExpr":"datum.value % 200 === 0 && datum.value < 850 ? '' + datum.value : ''","title":"time (fs)","tickSize":{"condition":{"test":"datum.value % 200 === 0","value":-6},"value":-3}}},
"y":{"field":"v","type":"quantitative","scale":{"domain":[-0.3,2.0],"nice":false,"zero":false},"axis":{"orient":"left","values":[-0.25,0,0.25,0.5,0.75,1,1.25,1.5,1.75,2],"labelExpr":"round(datum.value*4) % 2 === 0 && datum.value > -0.1 && datum.value < 1.9 ? '' + datum.value : ''","title":null,"tickSize":{"condition":{"test":"round(datum.value*4) % 2 === 0","value":-6},"value":-3}}}}},
{"mark":{"type":"point","opacity":0,"size":0},
"encoding":{
"x":{"field":"t","type":"quantitative","axis":{"orient":"top","values":[0,100,200,300,400,500,600,700,800,900],"labels":false,"title":null,"tickSize":{"condition":{"test":"datum.value % 200 === 0","value":-6},"value":-3}}},
"y":{"field":"v","type":"quantitative","axis":{"orient":"right","values":[-0.25,0,0.25,0.5,0.75,1,1.25,1.5,1.75,2],"labels":false,"title":null,"tickSize":{"condition":{"test":"round(datum.value*4) % 2 === 0","value":-6},"value":-3}}}}}
],
"resolve":{"axis":{"x":"independent","y":"independent"}}}
],"spacing":0,"bounds":"flush"}
]
}
